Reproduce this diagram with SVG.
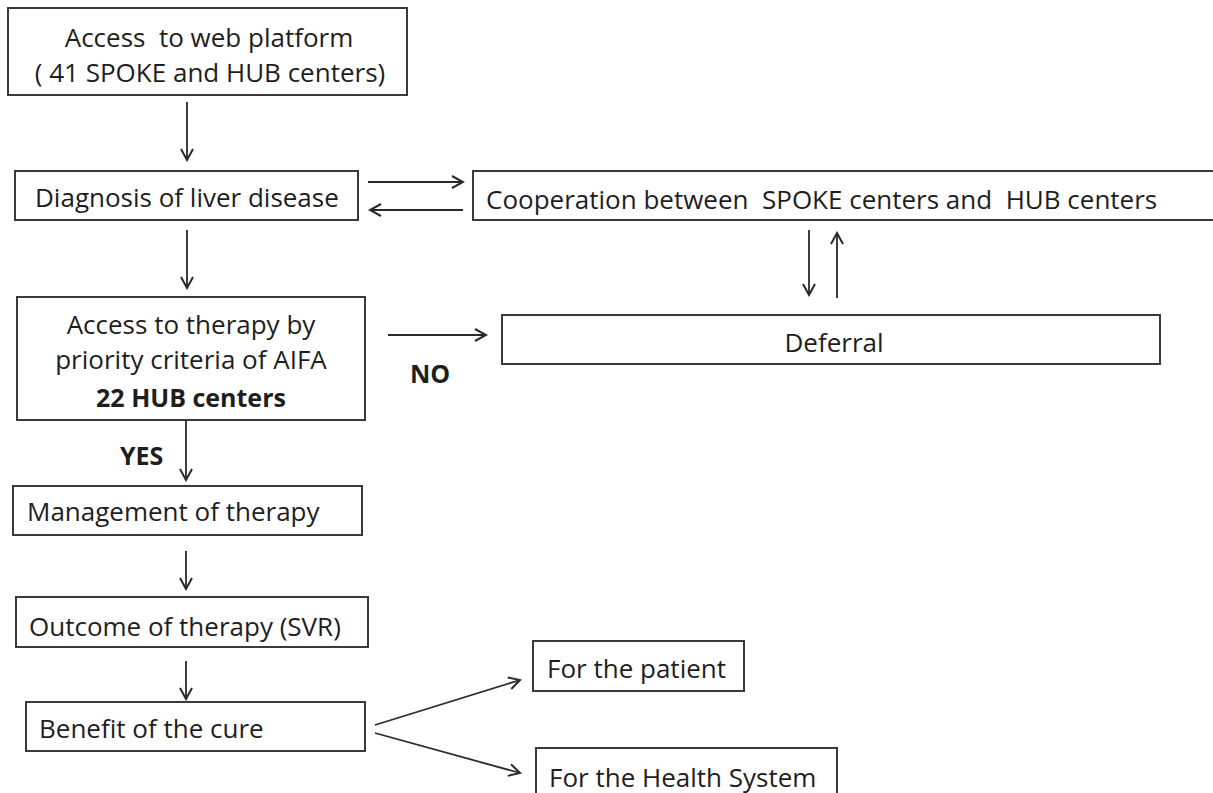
<svg xmlns="http://www.w3.org/2000/svg" width="1213" height="793" viewBox="0 0 1213 793">
<defs>
<style>
.box{fill:#ffffff;stroke:#3a3a3a;stroke-width:2}
.t{font-family:"Open Sans","Liberation Sans",sans-serif;font-size:26px;fill:#1e1e1e}
.b{font-family:"Open Sans","Liberation Sans",sans-serif;font-size:25px;font-weight:bold;fill:#1e1e1e}
.c{text-anchor:middle}
.arr{stroke:#2a2a2a;stroke-width:1.8;fill:none;marker-end:url(#ah)}
</style>
<marker id="ah" markerUnits="userSpaceOnUse" viewBox="0 0 14 14" refX="12" refY="7" markerWidth="14" markerHeight="14" orient="auto">
<path d="M1,1 L12,7 L1,13" fill="none" stroke="#2a2a2a" stroke-width="2"/>
</marker>
</defs>
<rect width="1213" height="793" fill="#ffffff"/>

<g id="n-access-web">
<rect class="box" x="8" y="8" width="399" height="87"/>
<text class="t c" x="209" y="47" xml:space="preserve">Access  to web platform</text>
<text class="t c" x="210" y="82">( 41 SPOKE and HUB centers)</text>
</g>

<g id="n-diagnosis">
<rect class="box" x="15" y="171" width="343" height="49"/>
<text class="t" x="35" y="207">Diagnosis of liver disease</text>
</g>

<g id="n-cooperation">
<rect class="box" x="473" y="171" width="745" height="49"/>
<text class="t" x="486" y="209" xml:space="preserve">Cooperation between  SPOKE centers and  HUB centers</text>
</g>

<g id="n-access-therapy">
<rect class="box" x="17" y="297" width="348" height="123"/>
<text class="t c" x="191" y="334">Access to therapy by</text>
<text class="t c" x="191" y="369">priority criteria of AIFA</text>
<text class="b c" x="191" y="407">22 HUB centers</text>
</g>

<g id="n-deferral">
<rect class="box" x="502" y="315" width="658" height="49"/>
<text class="t c" x="834" y="352">Deferral</text>
</g>

<g id="n-management">
<rect class="box" x="13" y="486" width="349" height="49"/>
<text class="t" x="27" y="521">Management of therapy</text>
</g>

<g id="n-outcome">
<rect class="box" x="16" y="597" width="352" height="50"/>
<text class="t" x="29" y="636">Outcome of therapy (SVR)</text>
</g>

<g id="n-benefit">
<rect class="box" x="26" y="702" width="339" height="49"/>
<text class="t" x="39" y="738">Benefit of the cure</text>
</g>

<g id="n-patient">
<rect class="box" x="533" y="641" width="211" height="50"/>
<text class="t" x="547" y="678">For the patient</text>
</g>

<g id="n-health">
<rect class="box" x="536" y="748" width="301" height="60"/>
<text class="t" x="549" y="787">For the Health System</text>
</g>

<g id="connectors">
<line class="arr" x1="187" y1="102" x2="187" y2="160"/>
<line class="arr" x1="368" y1="182" x2="463" y2="182"/>
<line class="arr" x1="463" y1="210" x2="370" y2="210"/>
<line class="arr" x1="187" y1="230" x2="187" y2="288"/>
<line class="arr" x1="809" y1="230" x2="809" y2="295"/>
<line class="arr" x1="837" y1="298" x2="837" y2="233"/>
<line class="arr" x1="388" y1="335" x2="486" y2="335"/>
<line class="arr" x1="186" y1="420" x2="186" y2="480"/>
<line class="arr" x1="186" y1="551" x2="186" y2="589"/>
<line class="arr" x1="186" y1="661" x2="186" y2="699"/>
<line class="arr" x1="375" y1="725" x2="520" y2="680"/>
<line class="arr" x1="375" y1="733" x2="520" y2="773"/>
<text class="b" x="410" y="383">NO</text>
<text class="b" x="120" y="465">YES</text>
</g>
</svg>
